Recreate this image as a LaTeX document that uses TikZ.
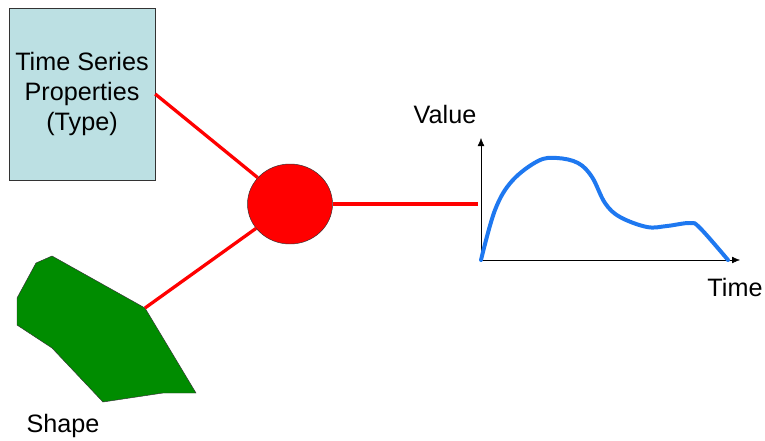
\documentclass[tikz,border=0pt]{standalone}
\usepackage{fontspec}
\setmainfont{Liberation Sans}
\usetikzlibrary{arrows.meta,shapes.geometric}
\definecolor{propblue}{RGB}{188,224,227}
\definecolor{shapegreen}{RGB}{0,140,0}
\definecolor{curveblue}{RGB}{30,120,240}

\begin{document}
\begin{tikzpicture}[x=0.03cm, y=-0.03cm,
	every node/.style={font=\fontsize{21.5}{25.6}\selectfont},
	>={Latex[length=2.4mm, width=2mm]},
	link/.style={red, line width=2.8pt},
	propbox/.style={draw=black!80, fill=propblue, align=center, minimum width=4.38cm, minimum height=5.16cm, inner sep=0pt},
	hubnode/.style={ellipse, draw=black!80, fill=red, minimum width=2.55cm, minimum height=2.4cm, inner sep=0pt}]
	\useasboundingbox (0,0) rectangle (765,440);
	% nodes
	\node[propbox] (props) at (82,94) {Time Series\\Properties\\(Type)};
	\node[hubnode] (hub) at (290,204) {};
	% shape
	\coordinate (shp) at (145,308);
	\draw[draw=black!80, fill=shapegreen] (36,263) -- (52,256) -- (shp) -- (196,393) -- (163,393) -- (103,402) -- (52,348) -- (17,325) -- (17,298) -- (23,287) -- cycle;
	\node (shapelbl) at (63,426) {Shape};
	% graph
	\coordinate (orig) at (481,260);
	\coordinate (gval) at (478,204);
	\draw[->] (orig) -- (481,138);
	\draw[->] (orig) -- (740,260);
	\draw[curveblue, line width=3.4pt, line cap=round] plot[smooth, tension=0.6] coordinates {(orig) (495,210) (512,181) (538,161) (557,158) (578,163) (592,177) (605,203) (620,217) (647,227) (667,226) (690,223) (700,228) (728,260)};
	\node (vallbl) at (445,114) {Value};
	\node (timelbl) at (735,287) {Time};
	% connectors
	\draw[link] (props.east) -- (hub);
	\draw[link] (shp) -- (hub);
	\draw[link] (hub) -- (gval);
\end{tikzpicture}
\end{document}
